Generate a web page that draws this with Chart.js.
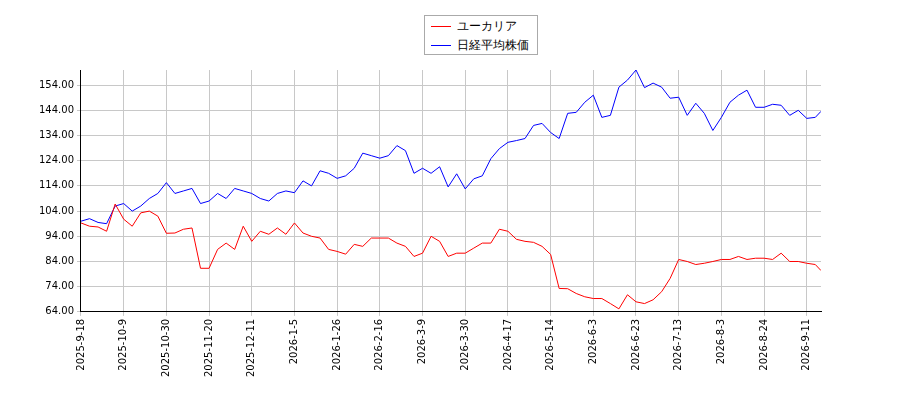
<!DOCTYPE html>
<html><head><meta charset="utf-8">
<script src="https://cdn.jsdelivr.net/npm/chart.js@4/dist/chart.umd.min.js"></script>
<style>body{margin:0;background:#fff}#w{position:relative;width:900px;height:400px}
#lg{position:absolute;left:424px;top:15px;width:114px;height:40px;border:1px solid #aaa;background:#fff;font:12px 'DejaVu Sans';color:#000;padding:1px 0 0 0;box-sizing:border-box}
#lg div{height:19px;line-height:19px;padding-left:6px;white-space:nowrap}
#lg span{display:inline-block;width:20px;height:0;border-top:1.5px solid;vertical-align:middle;margin-right:6px}</style>
</head><body><div id="w"><canvas id="c"></canvas><div id="lg"></div></div>
<script>
const dayIdx = [0,3,6,9,12,15,18,21,24,27,30,33,36,39,42,45,48,51,54,57,60,63,66,69,72,75,78,81,84,87,90,93,96,99,102,105,108,111,114,117,120,123,126,129,132,135,138,141,144,147,150,153,156,159,162,165,168,171,174,177,180,183,186,189,192,195,198,201,204,207,210,213,216,219,222,225,228,231,234,237,240,243,246,249,252,255,258,260];
const eucalyptus = [99.3,98,97.7,96,106.8,100.8,98,103.3,104,102,95.2,95.3,96.8,97.3,81.3,81.3,88.8,91.3,88.8,98,92,96,94.8,97.3,94.8,99.3,95.3,94,93.3,88.8,88,86.9,90.8,90,93.3,93.3,93.3,91.3,90,86,87.3,94,92,86,87.3,87.3,89.3,91.3,91.3,96.8,96,92.8,92,91.6,90,86.8,73.3,73.2,71.3,70,69.3,69.3,67.3,65.2,70.8,68,67.3,68.8,72,77.3,84.8,84,82.8,83.3,84,84.8,84.8,86,84.8,85.3,85.3,84.8,87.3,84,84,83.3,82.8,80.4];
const nikkei = [100,101,99.5,99,106,107,104,106,109,111,115.3,111,112,113,107,108,111,109,113,112,111,109,108,111,112,111.3,116,114,120,119,117,118,121,127,126,125,126,130,128,119,121,119,121.6,113.6,118.8,112.8,116.8,118,124.8,128.8,131.3,132,132.8,138,138.8,135.2,132.8,142.8,143.2,147.2,150,141.2,142,153.2,156,160,153,154.8,153.2,148.8,149.2,142,146.8,142.8,136,141.2,147.2,150,152,145.2,145.2,146.4,146,142,144,140.8,141.2,143.6];
const tickDates = ['2025-9-18','2025-10-9','2025-10-30','2025-11-20','2025-12-11','2026-1-5','2026-1-26','2026-2-16','2026-3-9','2026-3-30','2026-4-17','2026-5-14','2026-6-3','2026-6-23','2026-7-13','2026-8-3','2026-8-24','2026-9-11'];
const yTicks = [64,74,84,94,104,114,124,134,144,154];
const F = {family:'DejaVu Sans', size:10};
const ds = [
  {label:'ユーカリア', data:dayIdx.map((d,i)=>({x:d,y:eucalyptus[i]})), borderColor:'#ff0000', borderWidth:1, pointRadius:0, tension:0},
  {label:'日経平均株価', data:dayIdx.map((d,i)=>({x:d,y:nikkei[i]})), borderColor:'#0000ff', borderWidth:1, pointRadius:0, tension:0}
];
document.getElementById('lg').innerHTML = ds.map(d=>`<div><span style="border-color:${d.borderColor}"></span>${d.label}</div>`).join('');
new Chart(document.getElementById('c'), {
  type:'line',
  data:{datasets:ds},
  options:{animation:false, responsive:true, maintainAspectRatio:false,
    layout:{padding:{left:36,right:79,top:70,bottom:20}},
    plugins:{tooltip:{enabled:false}, legend:{display:false}},
    scales:{
      x:{type:'linear', min:0, max:260, grid:{color:'#c8c8c8', tickLength:4},
        border:{color:'#000'},
        afterBuildTicks(ax){ax.ticks=tickDates.map((_,i)=>({value:i*15}));},
        ticks:{font:F, color:'#000', maxRotation:90, minRotation:90, autoSkip:false, callback:(v)=>tickDates[Math.round(v/15)]}},
      y:{min:64, max:160, grid:{color:'#c8c8c8', tickLength:4}, border:{color:'#000'},
        afterBuildTicks(ax){ax.ticks=yTicks.map(v=>({value:v}));},
        ticks:{font:F, color:'#000', callback:(v)=>v.toFixed(2)}}
    }
  }
});
</script></body></html>
